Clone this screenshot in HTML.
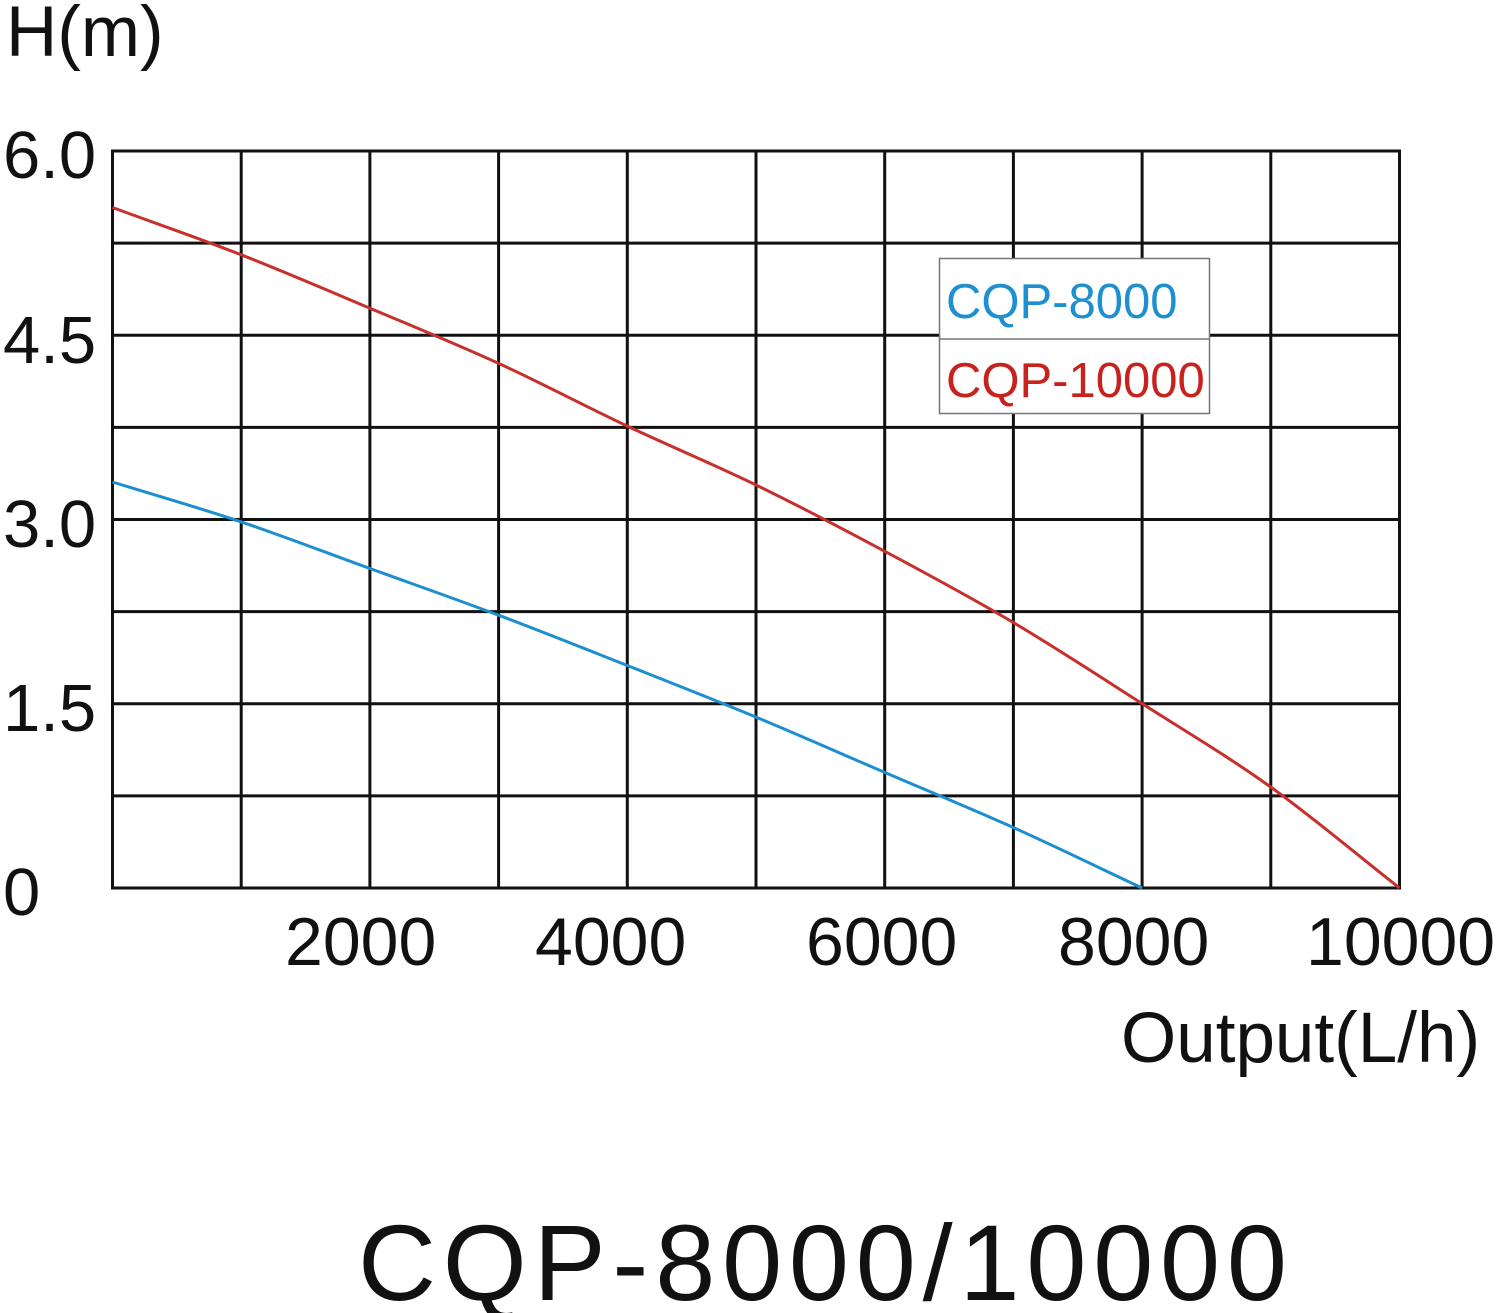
<!DOCTYPE html>
<html>
<head>
<meta charset="utf-8">
<style>
html,body{margin:0;padding:0;background:#fff;}
svg{display:block;}
text{font-family:"Liberation Sans",Arial,sans-serif;}
</style>
</head>
<body>
<svg width="1500" height="1313" viewBox="0 0 1500 1313" xmlns="http://www.w3.org/2000/svg">
<rect width="1500" height="1313" fill="#fff"/>
<!-- grid -->
<g stroke="#111" stroke-width="3" fill="none">
<line x1="112.5" y1="151" x2="112.5" y2="888"/>
<line x1="241.2" y1="151" x2="241.2" y2="888"/>
<line x1="369.9" y1="151" x2="369.9" y2="888"/>
<line x1="498.6" y1="151" x2="498.6" y2="888"/>
<line x1="627.3" y1="151" x2="627.3" y2="888"/>
<line x1="756" y1="151" x2="756" y2="888"/>
<line x1="884.7" y1="151" x2="884.7" y2="888"/>
<line x1="1013.4" y1="151" x2="1013.4" y2="888"/>
<line x1="1142.1" y1="151" x2="1142.1" y2="888"/>
<line x1="1270.8" y1="151" x2="1270.8" y2="888"/>
<line x1="1399.5" y1="151" x2="1399.5" y2="888"/>
<line x1="111" y1="151" x2="1401" y2="151"/>
<line x1="111" y1="243.1" x2="1401" y2="243.1"/>
<line x1="111" y1="335.2" x2="1401" y2="335.2"/>
<line x1="111" y1="427.4" x2="1401" y2="427.4"/>
<line x1="111" y1="519.5" x2="1401" y2="519.5"/>
<line x1="111" y1="611.6" x2="1401" y2="611.6"/>
<line x1="111" y1="703.7" x2="1401" y2="703.7"/>
<line x1="111" y1="795.9" x2="1401" y2="795.9"/>
<line x1="111" y1="888" x2="1401" y2="888"/>
</g>
<!-- curves -->
<path d="M112.5,207.5 C155.4,223.3 198.3,238.0 241.2,254.8 C284.1,271.6 327,290.1 369.9,308.2 C412.8,326.3 455.7,343.75 498.6,363.4 C541.5,383.05 584.4,405.83 627.3,426.1 C670.2,446.37 713.1,464.13 756,485.0 C798.9,505.87 841.8,528.37 884.7,551.3 C927.6,574.23 970.5,597.22 1013.4,622.6 C1056.3,647.98 1099.2,676.18 1142.1,703.6 C1185,731.02 1227.9,756.37 1270.8,787.1 C1313.7,817.83 1356.6,854.4 1399.5,888" stroke="#c8302c" stroke-width="3" fill="none"/>
<path d="M112.5,482 C155.4,495.3 198.3,507.48 241.2,521.9 C284.1,536.32 327,552.95 369.9,568.5 C412.8,584.05 455.7,599.03 498.6,615.2 C541.5,631.37 584.4,648.52 627.3,665.5 C670.2,682.48 713.1,699.28 756,717.1 C798.9,734.92 841.8,753.98 884.7,772.4 C927.6,790.82 970.5,808.33 1013.4,827.6 C1056.3,846.87 1099.2,867.87 1142.1,888" stroke="#1b8fcf" stroke-width="3" fill="none"/>
<!-- legend -->
<rect x="939.5" y="258.5" width="270" height="155" fill="#fff" stroke="#777" stroke-width="1.5"/>
<line x1="939.5" y1="339" x2="1209.5" y2="339" stroke="#777" stroke-width="1.5"/>
<text x="946" y="318" font-size="49" fill="#1e8fd0">CQP-8000</text>
<text x="946" y="397" font-size="49" fill="#c8221e">CQP-10000</text>
<!-- axis labels -->
<g fill="#111">
<text x="6" y="56" font-size="71">H(m)</text>
<text x="3" y="178" font-size="67">6.0</text>
<text x="3" y="363" font-size="67">4.5</text>
<text x="3" y="547" font-size="67">3.0</text>
<text x="3" y="731" font-size="67">1.5</text>
<text x="3" y="915" font-size="67">0</text>
<text x="285" y="965" font-size="68">2000</text>
<text x="535" y="965" font-size="68">4000</text>
<text x="806" y="965" font-size="68">6000</text>
<text x="1058" y="965" font-size="68">8000</text>
<text x="1306" y="965" font-size="68">10000</text>
<text x="1121" y="1062" font-size="71">Output(L/h)</text>
<text x="358" y="1300" font-size="108" letter-spacing="6.8">CQP-8000/10000</text>
</g>
</svg>
</body>
</html>
